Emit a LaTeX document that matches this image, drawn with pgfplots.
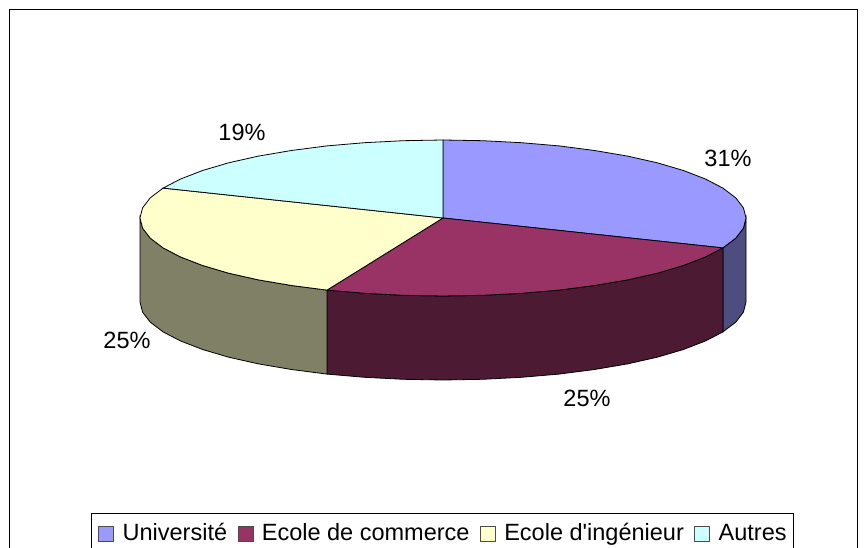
\documentclass[border=0pt]{standalone}
\usepackage{pgfplots}
\pgfplotsset{compat=1.18}
\usepackage{fontspec}
\setmainfont{Liberation Sans}[Ligatures=TeXOff]
\definecolor{topA}{HTML}{9999FF}
\definecolor{topB}{HTML}{993366}
\definecolor{topC}{HTML}{FFFFCC}
\definecolor{topD}{HTML}{CCFFFF}
\definecolor{wallA}{HTML}{4D4D80}
\definecolor{wallB}{HTML}{4D1A33}
\definecolor{wallC}{HTML}{808066}
\begin{document}
\begin{tikzpicture}
\path[use as bounding box, clip] (0,0) rectangle (866bp,548bp);
\begin{axis}[
  at={(0,0)}, anchor=south west,
  scale only axis, width=866bp, height=548bp,
  xmin=-443, xmax=423, ymin=-330, ymax=218,
  hide axis, clip=false,
  legend columns=4,
  legend cell align=left,
  legend style={
    at={(axis cs:-352,-294.7)}, anchor=north west,
    draw=black, line width=0.8bp, fill=white,
    font=\fontsize{23.6}{28}\selectfont,
    inner xsep=7bp, inner ysep=10bp,
    nodes={inner sep=0pt, anchor=base west},
    /tikz/every even column/.style={column sep=10.5bp},
    /tikz/every odd column/.style={column sep=8.5bp},
  },
  legend image code/.code={
    \draw[#1, draw=black!70, line width=0.7bp] (0bp,-1bp) rectangle (15bp,14bp);
  },
]
\addplot[forget plot, draw=black, line width=0.8bp, fill=wallA] coordinates {
 (303,0)(300.4,-10.2)(292.7,-20.2)(279.9,-29.9)(279.9,-113.9)(292.7,-104.2)(300.4,-94.2)(303,-84)} -- cycle;
\addplot[forget plot, draw=black, line width=0.8bp, fill=wallB] coordinates {
 (279.9,-29.9)(262.4,-39)(240.4,-47.5)(214.3,-55.2)(184.5,-61.9)(151.5,-67.5)(116,-72.1)(78.4,-75.3)(39.5,-77.3)(0,-78)(-39.5,-77.3)(-78.4,-75.3)(-116,-72.1)
 (-116,-156.1)(-78.4,-159.3)(-39.5,-161.3)(0,-162)(39.5,-161.3)(78.4,-159.3)(116,-156.1)(151.5,-151.5)(184.5,-145.9)(214.3,-139.2)(240.4,-131.5)(262.4,-123)(279.9,-113.9)} -- cycle;
\addplot[forget plot, draw=black, line width=0.8bp, fill=wallC] coordinates {
 (-116,-72.1)(-151.5,-67.5)(-184.5,-61.9)(-214.3,-55.2)(-240.4,-47.5)(-262.4,-39)(-279.9,-29.9)(-292.7,-20.2)(-300.4,-10.2)(-303,0)
 (-303,-84)(-300.4,-94.2)(-292.7,-104.2)(-279.9,-113.9)(-262.4,-123)(-240.4,-131.5)(-214.3,-139.2)(-184.5,-145.9)(-151.5,-151.5)(-116,-156.1)} -- cycle;
\addplot[draw=black, line width=0.8bp, fill=topA] coordinates {
 (0,0)(0,78)(39.5,77.3)(78.4,75.3)(116,72.1)(151.5,67.5)(184.5,61.9)(214.3,55.2)(240.4,47.5)(262.4,39)(279.9,29.9)(292.7,20.2)(300.4,10.2)(303,0)(300.4,-10.2)(292.7,-20.2)(279.9,-29.9)} -- cycle;
\addlegendentry{Université}
\addplot[draw=black, line width=0.8bp, fill=topB] coordinates {
 (0,0)(279.9,-29.9)(262.4,-39)(240.4,-47.5)(214.3,-55.2)(184.5,-61.9)(151.5,-67.5)(116,-72.1)(78.4,-75.3)(39.5,-77.3)(0,-78)(-39.5,-77.3)(-78.4,-75.3)(-116,-72.1)} -- cycle;
\addlegendentry{Ecole de commerce}
\addplot[draw=black, line width=0.8bp, fill=topC] coordinates {
 (0,0)(-116,-72.1)(-151.5,-67.5)(-184.5,-61.9)(-214.3,-55.2)(-240.4,-47.5)(-262.4,-39)(-279.9,-29.9)(-292.7,-20.2)(-300.4,-10.2)(-303,0)(-300.4,10.2)(-292.7,20.2)(-279.9,29.9)} -- cycle;
\addlegendentry{Ecole d'ingénieur}
\addplot[draw=black, line width=0.8bp, fill=topD] coordinates {
 (0,0)(-279.9,29.9)(-262.4,39)(-240.4,47.5)(-214.3,55.2)(-184.5,61.9)(-151.5,67.5)(-116,72.1)(-78.4,75.3)(-39.5,77.3)(0,78)} -- cycle;
\addlegendentry{Autres}
\draw[black, line width=0.8bp] (axis cs:-433.5,-340) -- (axis cs:-433.5,208.5) -- (axis cs:414,208.5) -- (axis cs:414,-340);
\node[font=\fontsize{23.6}{28}\selectfont] at (axis cs:285,60) {31\%};
\node[font=\fontsize{23.6}{28}\selectfont] at (axis cs:-201,86) {19\%};
\node[font=\fontsize{23.6}{28}\selectfont] at (axis cs:-316,-122) {25\%};
\node[font=\fontsize{23.6}{28}\selectfont] at (axis cs:144,-180) {25\%};
\end{axis}
\end{tikzpicture}
\end{document}
